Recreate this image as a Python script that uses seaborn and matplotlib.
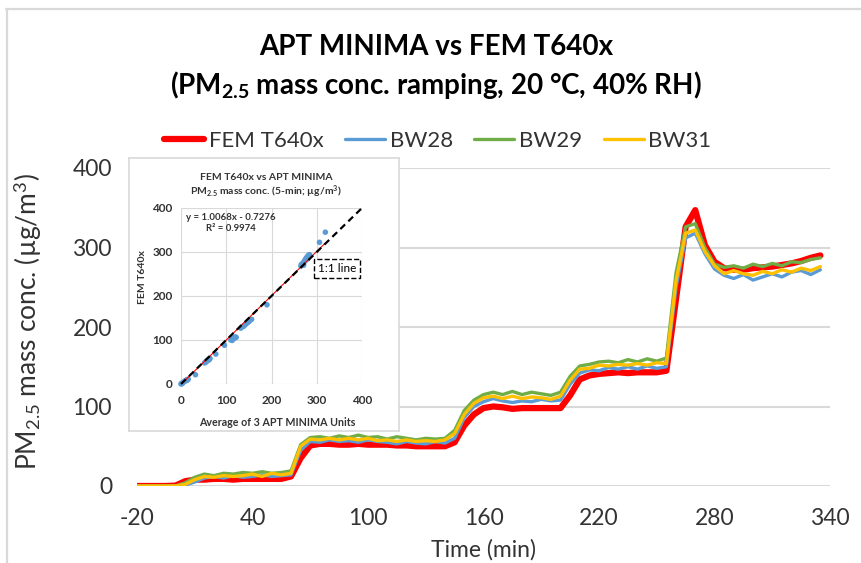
import numpy as np
import pandas as pd
import matplotlib.pyplot as plt
import seaborn as sns
from matplotlib.lines import Line2D

# time axis (min) and 5-min readings of each instrument
time_min = list(range(-20, 340, 5))

fem_t640x = [0, 0, 0, 0, 0.5, 6, 8, 8, 9, 9, 8, 9, 9, 9, 9, 9, 12, 35, 51, 53,
             53, 52, 52, 53, 52, 52, 52, 51, 51, 50, 50, 50, 50, 55, 76, 90,
             98, 100, 99, 97, 98, 98, 98, 98, 98, 114, 134, 139, 141, 142, 143, 142,
             143, 143, 143, 145, 235, 326, 347, 303, 282, 274, 272, 272, 274, 275,
             276, 278, 280, 283, 287, 290]
bw28 = [0, 0, 0, 0, 0, 1, 5, 10, 12, 10, 13, 11, 12, 14, 12, 13, 14, 45, 56, 55,
        58, 56, 57, 55, 58, 56, 55, 53, 56, 54, 53, 56, 54, 60, 86, 100,
        106, 110, 107, 105, 107, 106, 109, 107, 108, 128, 142, 146, 145, 149, 147, 150,
        147, 151, 148, 150, 250, 312, 318, 292, 273, 265, 261, 266, 259, 263,
        267, 263, 269, 271, 266, 272]
bw29 = [0, 0, 0, 0, 0, 4, 11, 15, 13, 16, 15, 17, 16, 18, 16, 17, 19, 52, 61, 62,
        60, 63, 61, 64, 61, 62, 59, 62, 60, 58, 60, 59, 60, 70, 95, 108,
        115, 118, 115, 119, 115, 118, 116, 114, 118, 138, 151, 153, 156, 157, 155, 159,
        156, 160, 157, 161, 268, 326, 330, 300, 279, 275, 277, 274, 279, 276,
        280, 277, 282, 281, 285, 287]
bw31 = [0, 0, 0, 0, 0, 2, 8, 12, 11, 13, 12, 13, 15, 12, 16, 14, 16, 50, 59, 58,
        60, 58, 60, 58, 60, 57, 58, 56, 58, 56, 57, 56, 58, 66, 90, 104,
        111, 113, 110, 113, 110, 112, 111, 109, 113, 133, 147, 148, 152, 151, 153, 152,
        154, 152, 155, 154, 258, 318, 322, 295, 277, 267, 271, 267, 265, 270,
        267, 272, 269, 274, 271, 276]

series_names = ['FEM T640x', 'BW28', 'BW29', 'BW31']
series_colors = ['#FF0000', '#5B9BD5', '#70AD47', '#FFC000']

# inset: 5-min average of the 3 MINIMA units vs FEM
avg_units = [0, 1, 2, 3, 5, 8, 10, 12, 14, 16, 13, 32,
             52, 55, 57, 60, 62, 63, 58, 54, 61, 64, 77, 96,
             110, 112, 115, 118, 120, 122, 113, 117,
             132, 135, 138, 142, 145, 148, 150, 153, 156, 140, 190,
             265, 268, 270, 272, 274, 276, 278, 280, 282, 284, 271, 275, 279, 266,
             306, 319]
fem_5min = [0, 1, 2, 1, 4, 6, 8, 9, 10, 11, 8, 21,
            48, 50, 52, 54, 55, 57, 53, 49, 56, 58, 68, 88,
            100, 102, 104, 105, 107, 106, 99, 103,
            127, 130, 131, 135, 138, 140, 142, 145, 147, 133, 180,
            268, 272, 275, 278, 282, 285, 288, 290, 293, 294, 270, 280, 284, 272,
            322, 345]
fit_slope = 1.0068
fit_intercept = -0.7276

sns.set_theme(style='white')
plt.rcParams['font.family'] = ['Lato', 'DejaVu Sans']
plt.rcParams['mathtext.fontset'] = 'custom'
plt.rcParams['mathtext.rm'] = 'Lato'
plt.rcParams['mathtext.bf'] = 'Lato:bold'
plt.rcParams['mathtext.it'] = 'Lato:italic'
plt.rcParams['axes.unicode_minus'] = False

W, H = 861, 563
fig = plt.figure(figsize=(W / 100, H / 100), dpi=100)
txt = '#333333'

# main chart
ax = fig.add_axes([137 / W, 1 - 486 / H, 693 / W, 318 / H])
df = pd.DataFrame({'t': time_min, 'FEM T640x': fem_t640x, 'BW28': bw28,
                   'BW29': bw29, 'BW31': bw31})
for name, color in zip(series_names, series_colors):
    lw = 4.5 if name == 'FEM T640x' else 2.4
    sns.lineplot(data=df, x='t', y=name, ax=ax, color=color, lw=lw, label=name)

ax.set_xlim(-20, 340)
ax.set_ylim(0, 400)
ax.set_xticks(range(-20, 341, 60))
ax.set_yticks(range(0, 401, 100))
ax.yaxis.grid(True, color='#D9D9D9', lw=1.5)
ax.xaxis.grid(False)
for s in ax.spines.values():
    s.set_visible(False)
ax.tick_params(axis='both', length=0, labelsize=16.5, colors=txt)
ax.tick_params(axis='y', pad=18)
ax.tick_params(axis='x', pad=16)
ax.set_xlabel('Time (min)', fontsize=16.5, color=txt, va='center')
ax.xaxis.set_label_coords(0.5, (486 - 550) / 318)
ax.set_ylabel('PM$_{2.5}$ mass conc. (µg/m$^3$)', fontsize=19, color=txt, va='center')
ax.yaxis.set_label_coords((28 - 137) / 693, (486 - 322) / 318)

ax.legend(loc='center', bbox_to_anchor=(438 / W, 1 - 141 / H), bbox_transform=fig.transFigure,
          ncol=4, frameon=False, fontsize=16, handlelength=1.8, handletextpad=0.22,
          columnspacing=0.95, labelcolor=txt)

fig.text(436 / W, 1 - 47 / H, 'APT MINIMA vs FEM T640x', fontsize=20, fontweight='bold',
         ha='center', va='center', color='black')
fig.text(436 / W, 1 - 85 / H, r'(PM$_{\mathbf{2.5}}$ mass conc. ramping, 20 °C, 40% RH)',
         fontsize=20, fontweight='bold', ha='center', va='center', color='black')

# inset frame
box = fig.add_axes([129 / W, 1 - 431 / H, 270 / W, 273 / H])
box.set_xticks([])
box.set_yticks([])
box.set_facecolor('white')
for s in box.spines.values():
    s.set_color('#D9D9D9')
    s.set_linewidth(1.2)

# inset scatter
ins = fig.add_axes([181 / W, 1 - 384 / H, 181 / W, 176 / H])
ins.set_facecolor('none')
sns.scatterplot(x=avg_units, y=fem_5min, ax=ins, color='#5B9BD5', s=16,
                edgecolor='none', clip_on=False, zorder=3)
xf = np.array([min(avg_units), max(avg_units)])
ins.plot(xf, fit_slope * xf + fit_intercept, color='#FF0000', lw=0.8, zorder=4)
ins.plot([0, 400], [0, 400], color='black', ls=(0, (3, 2)), lw=1.6, zorder=5, clip_on=False)
ins.set_xlim(0, 400)
ins.set_ylim(0, 400)
ins.set_xticks(range(0, 401, 100))
ins.set_yticks(range(0, 401, 100))
ins.grid(True, color='#D9D9D9', lw=0.8)
for s in ins.spines.values():
    s.set_visible(False)
ins.tick_params(axis='both', length=0, labelsize=8.5, colors=txt)
ins.tick_params(axis='x', pad=8)
ins.tick_params(axis='y', pad=6)
for lab in ins.get_xticklabels() + ins.get_yticklabels():
    lab.set_fontweight('bold')
ins.text(0.47, 1.176, 'FEM T640x vs APT MINIMA', transform=ins.transAxes, ha='center',
         va='center', fontsize=7.5, fontweight='bold', color=txt)
ins.text(0.47, 1.09, r'PM$_{\mathbf{2.5}}$ mass conc. (5-min; µg/m$^\mathbf{3}$)',
         transform=ins.transAxes, ha='center', va='center', fontsize=7.5,
         fontweight='bold', color=txt)
ins.text(0.53, -0.216, 'Average of 3 APT MINIMA Units', transform=ins.transAxes,
         ha='center', va='center', fontsize=7.7, fontweight='bold', color=txt)
ins.text(-0.215, 0.61, 'FEM T640x', transform=ins.transAxes, rotation=90,
         ha='center', va='center', fontsize=7.5, fontweight='bold', color=txt)
ins.text(110, 366, 'y = 1.0068x - 0.7276\nR² = 0.9974', ha='center', va='center',
         fontsize=6.9, fontweight='bold', color=txt, linespacing=1.4)
ins.text(345, 263, '1:1 line', ha='center', va='center', fontsize=8.5, color='black',
         bbox=dict(boxstyle='square,pad=0.35', fc='white', ec='black', ls='--', lw=1.0),
         zorder=6)

# outer chart border (top and left edges visible)
fig.add_artist(Line2D([6 / W, 1], [1 - 9 / H, 1 - 9 / H], transform=fig.transFigure,
                      color='#D9D9D9', lw=1.6))
fig.add_artist(Line2D([7 / W, 7 / W], [0, 1 - 9 / H], transform=fig.transFigure,
                      color='#D9D9D9', lw=1.6))

fig.savefig('out.png', dpi=100)
